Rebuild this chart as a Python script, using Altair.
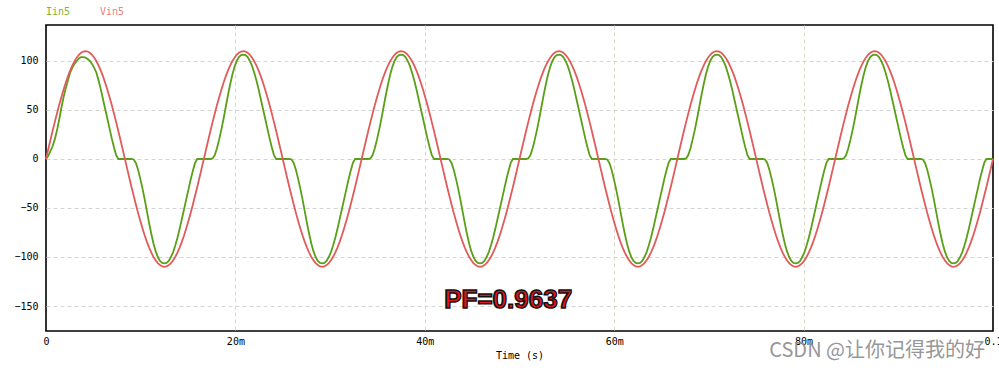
import altair as alt
import pandas as pd

SERIES = ["Iin5", "Vin5"]
COLORS = ["#5a9f17", "#e05c5c"]
LEGEND_COLORS = ["#84b236", "#ee7c7c"]

# Vin5, positive half-cycle (0..175 deg)
VIN_HALF = [0, 9.6, 19.1, 28.5, 37.6, 46.5, 55.0, 63.1, 70.7, 77.8, 84.3, 90.1,
            95.3, 99.7, 103.4, 106.3, 108.3, 109.6, 110.0, 109.6, 108.3, 106.3,
            103.4, 99.7, 95.3, 90.1, 84.3, 77.8, 70.7, 63.1, 55.0, 46.5, 37.6,
            28.5, 19.1, 9.6]
# Iin5, steady-state positive half-cycle (0..175 deg), dead zone near zero crossing
IIN_HALF = [0, 0, 0, 0, 0.5, 4, 11, 20, 30, 41, 53, 65, 76, 86, 94, 100, 104,
            106, 106.5, 106, 104, 100, 95, 88, 80, 71, 61, 51, 41, 31, 21, 12,
            4, 0, 0, 0]
# Iin5, very first positive half-cycle (start-up, no dead zone)
IIN_FIRST_HALF = [0, 3, 8, 13, 20, 29, 40, 52, 63, 72, 80, 88, 93, 97, 100,
                  102.5, 104, 104, 103.5, 102, 100, 97, 93, 88, 80, 71, 61,
                  51, 41, 31, 21, 12, 4, 0, 0, 0]
N_CYCLES = 6
PERIOD = 1 / 60

X_TICKS = [0, 0.02, 0.04, 0.06, 0.08, 0.1]
Y_TICKS = [-150, -100, -50, 0, 50, 100]
PF_TEXT = "PF=0.9637"
PF_POS = [0.0488, -144]
WATERMARK = "CSDN @让你记得我的好"

# ---- build the long table ----
def neg(lst):
    return [-v for v in lst]

vin = (VIN_HALF + neg(VIN_HALF)) * N_CYCLES + [0]
iin = IIN_FIRST_HALF + neg(IIN_HALF) + (IIN_HALF + neg(IIN_HALF)) * (N_CYCLES - 1) + [0]
steps = len(VIN_HALF) * 2
t = [i * PERIOD / steps for i in range(len(vin))]

df = pd.concat([
    pd.DataFrame({"t": t, "v": iin, "series": "Iin5", "order": 0}),
    pd.DataFrame({"t": t, "v": vin, "series": "Vin5", "order": 1}),
])

mono = "DejaVu Sans Mono"
clear = "rgba(0,0,0,0)"

x_axis = alt.Axis(values=X_TICKS, title="Time (s)", titleFont=mono, titleFontSize=10,
                  titleFontWeight="normal", titleColor="#000", titlePadding=4,
                  labelFont=mono, labelFontSize=10, labelColor="#000", labelPadding=5,
                  labelExpr="datum.value == 0 ? '0' : (datum.value > 0.099 ? '0.1' : round(datum.value*1000) + 'm')",
                  ticks=False, domain=False, grid=True, gridDash=[4, 3],
                  gridColor={"condition": {"test": "datum.value < 0.001 || datum.value > 0.099", "value": clear},
                             "value": "#dcd8c6"},
                  gridWidth=1, labelFlush=False)
y_axis = alt.Axis(values=Y_TICKS, title=None, labelFont=mono, labelFontSize=10,
                  labelColor="#000", labelPadding=8, ticks=False, domain=False,
                  grid=True, gridDash=[4, 3], gridColor="#d4d4d4", gridWidth=1)

lines = alt.Chart(df).mark_line(strokeWidth=1.8).encode(
    x=alt.X("t:Q", axis=x_axis, scale=alt.Scale(domain=[0, 0.1], nice=False, zero=False)),
    y=alt.Y("v:Q", axis=y_axis, scale=alt.Scale(domain=[-175.5, 136.7], nice=False, zero=False)),
    color=alt.Color("series:N", scale=alt.Scale(domain=SERIES, range=COLORS), legend=None),
    order="order:Q",
    detail="series:N",
)

leg_df = pd.DataFrame({"name": SERIES, "col": LEGEND_COLORS, "px": [0, 54]})
legend = alt.Chart(leg_df).mark_text(align="left", baseline="middle", font=mono,
                                     fontSize=10).encode(
    x=alt.X("px:Q", scale=None),
    y=alt.value(-13),
    text="name:N",
    color=alt.Color("col:N", scale=None),
)

pf = alt.Chart(pd.DataFrame({"t": [PF_POS[0]], "v": [PF_POS[1]], "txt": [PF_TEXT]})).mark_text(
    font="Liberation Sans", fontSize=26, fontWeight="bold", fill="#e8141c",
    stroke="#111", strokeWidth=1.5, align="center", baseline="middle",
).encode(x="t:Q", y="v:Q", text="txt:N")

wm = alt.Chart(pd.DataFrame({"txt": [WATERMARK]})).mark_text(
    font="Noto Sans CJK SC", fontSize=20, color="#8c8c8c", opacity=0.9,
    align="right", baseline="middle",
).encode(x=alt.value(939), y=alt.value(326), text="txt:N")

chart = alt.layer(lines, pf, legend, wm).properties(
    width=947, height=306,
    padding={"left": 46, "top": 25, "right": 6, "bottom": 39},
    autosize="none",
    background="white",
).configure_view(stroke="#000", strokeWidth=1.6)

chart.save("out.html", embed_options={"renderer": "svg", "actions": False})
